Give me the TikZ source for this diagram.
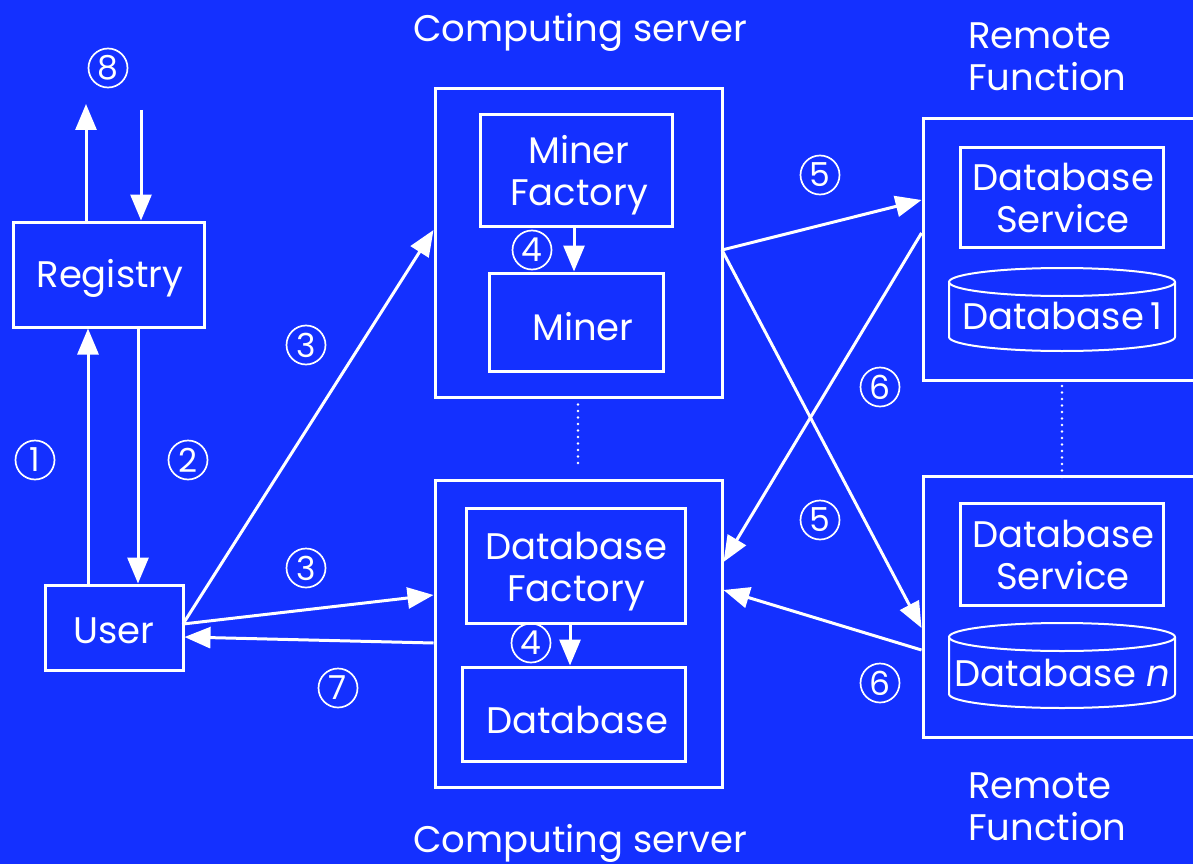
\documentclass[tikz,border=0pt]{standalone}
\usepackage{fontspec}
\setmainfont{Poppins}
\usetikzlibrary{arrows.meta}
\definecolor{bg}{RGB}{20,48,255}

\begin{document}
\begin{tikzpicture}[x=1pt,y=-1pt,
  box/.style={draw=white, line width=3pt, inner sep=0pt},
  lbl/.style={text=white, font=\fontsize{37}{42}\selectfont, inner sep=0pt, align=center},
  num/.style={circle, draw=white, line width=1.7pt, minimum size=39pt, inner sep=0pt,
    text=white, font=\fontsize{33}{34}\selectfont},
  conn/.style={draw=white, line width=3pt, -{Triangle[length=26pt,width=21pt]}},
  dots/.style={draw=white, line width=2.6pt, line cap=round, dash pattern=on 0pt off 6.5pt},
  drum/.style={draw=white, line width=2pt}]

\fill[bg] (0,0) rectangle (1193,864);
\clip (0,0) rectangle (1193,864);

% ---------- left column: registry and user ----------
\node[box, minimum width=191pt, minimum height=105pt] (reg) at (108.5,274.5) {};
\node[lbl] (regtxt) at (110,278) {Registry};
\node[box, minimum width=138pt, minimum height=85pt] (user) at (114,627.5) {};
\node[lbl] (usertxt) at (114,631) {User};
\node[num] (n8) at (108,68) {8};
\coordinate (regout) at (86,104);
\coordinate (regin) at (141,110);
\draw[conn] (reg.north -| regout) -- (regout);
\draw[conn] (regin) -- (reg.north -| regin);
\draw[conn] (user.north -| 88,0) -- (reg.south -| 88,0);
\draw[conn] (reg.south -| 138,0) -- (user.north -| 138,0);
\node[num] (n1) at (35,460) {1};
\node[num] (n2) at (188,460) {2};

% ---------- computing servers ----------
\node[lbl] (cstop) at (580,32) {Computing server};
\node[lbl] (csbot) at (580,843) {Computing server};
\node[box, minimum width=287pt, minimum height=308pt] (cs1) at (578.5,243) {};
\node[box, minimum width=287pt, minimum height=307pt] (cs2) at (578.5,633.5) {};
\draw[dots] (cs1.south -| 578,0) ++(0,6) -- (578,465);

\node[box, minimum width=192pt, minimum height=111pt] (mf) at (576,170.5) {};
\node[lbl] (mftxt) at (579,175) {Miner\\Factory};
\node[box, minimum width=174pt, minimum height=98pt] (miner) at (576,322) {};
\node[lbl] (minertxt) at (583,327) {Miner};
\draw[conn] (mf.south -| 574,0) -- (miner.north -| 574,0);
\node[num] (n4a) at (532,250) {4};

\node[box, minimum width=219pt, minimum height=115pt] (dbf) at (575.5,565.5) {};
\node[lbl] (dbftxt) at (576,571.5) {Database\\Factory};
\node[box, minimum width=223pt, minimum height=94pt] (db) at (573.5,714) {};
\node[lbl] (dbtxt) at (577,720) {Database};
\draw[conn] (dbf.south -| 570,0) -- (db.north -| 570,0);
\node[num] (n4b) at (531,643) {4};

% ---------- remote functions ----------
\node[lbl, anchor=west, align=left] (rftop) at (968,56.5) {Remote\\Function};
\node[lbl, anchor=west, align=left] (rfbot) at (968,806.5) {Remote\\Function};
\node[box, minimum width=276pt, minimum height=261pt] (rf1) at (1061,249.5) {};
\node[box, minimum width=276pt, minimum height=261pt] (rf2) at (1061,606.5) {};
\draw[dots] (1062,386) -- (1062,478);

\node[box, minimum width=203pt, minimum height=100pt] (ds1) at (1061.5,197) {};
\node[lbl] (ds1txt) at (1063,198) {Database\\Service};
\node[box, minimum width=203pt, minimum height=102pt] (ds2) at (1061.5,554) {};
\node[lbl] (ds2txt) at (1063,555) {Database\\Service};

% storage drums
\draw[drum] (1062,282) ellipse [x radius=113, y radius=14];
\draw[drum] (949,282) -- (949,337) arc [start angle=180, end angle=0, x radius=113, y radius=14] -- (1175,282);
\node[lbl] (db1) at (1062,316) {Database\,1};

\draw[drum] (1062,637) ellipse [x radius=113, y radius=14];
\draw[drum] (949,637) -- (949,694) arc [start angle=180, end angle=0, x radius=113, y radius=14] -- (1175,637);
\node[lbl] (dbn) at (1062,673) {Database \textit{n}};

% ---------- requests and replies ----------
\coordinate (uo) at (183,624);
\draw[conn] (uo) -- (cs1.west |- 0,230);
\draw[conn] (uo) -- (cs2.west |- 0,595);
\draw[conn] (cs2.west |- 0,643) -- (user.east |- 0,637);
\node[num] (n3a) at (306,345) {3};
\node[num] (n3b) at (306,568) {3};
\node[num] (n7) at (338,688) {7};

\coordinate (cso) at (722,250);
\draw[conn] (cso) -- (rf1.west |- 0,200);
\draw[conn] (cso) -- (rf2.west |- 0,628);
\draw[conn] (rf1.west |- 0,233) -- (cs2.east |- 0,562);
\draw[conn] (rf2.west |- 0,650) -- (cs2.east |- 0,590);
\node[num] (n5a) at (820,175) {5};
\node[num] (n5b) at (820,520) {5};
\node[num] (n6a) at (880,387) {6};
\node[num] (n6b) at (880,683) {6};
\end{tikzpicture}
\end{document}
